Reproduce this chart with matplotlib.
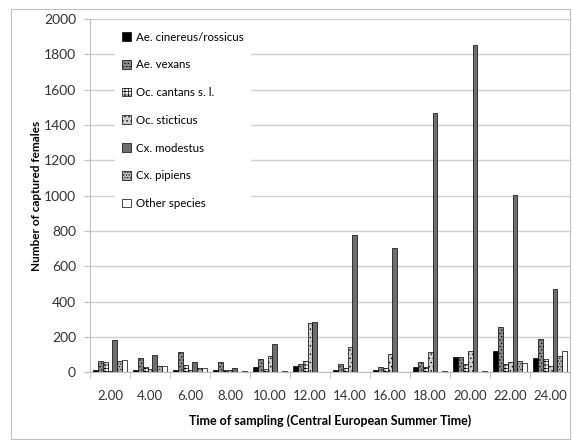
import numpy as np
import matplotlib.pyplot as plt

plt.rcParams['font.family'] = ['Lato', 'DejaVu Sans']
plt.rcParams['hatch.linewidth'] = 0.5

times = ['2.00', '4.00', '6.00', '8.00', '10.00', '12.00', '14.00', '16.00',
         '18.00', '20.00', '22.00', '24.00']
species = ['Ae. cinereus/rossicus', 'Ae. vexans', 'Oc. cantans s. l.', 'Oc. sticticus',
           'Cx. modestus', 'Cx. pipiens', 'Other species']

ae_cinereus = [15, 15, 10, 10, 28, 36, 10, 15, 28, 85, 120, 80]
ae_vexans = [66, 79, 115, 60, 74, 45, 47, 32, 57, 85, 255, 188]
oc_cantans = [57, 28, 43, 13, 17, 62, 23, 25, 32, 45, 47, 72]
oc_sticticus = [5, 20, 15, 13, 91, 280, 140, 102, 117, 120, 55, 36]
cx_modestus = [183, 100, 59, 23, 160, 287, 775, 703, 1470, 1850, 1002, 470]
cx_pipiens = [66, 34, 26, 0, 0, 0, 0, 0, 0, 0, 66, 89]
other = [70, 34, 26, 8, 8, 0, 0, 0, 8, 8, 51, 122]

series = [ae_cinereus, ae_vexans, oc_cantans, oc_sticticus, cx_modestus, cx_pipiens, other]
faces = ['#000000', '#8a8a8a', '#ffffff', '#cfcfcf', '#6e6e6e', '#b8b8b8', '#ffffff']
hatches = [None, '.....', '+++++', '....', None, '......', None]

fig = plt.figure(figsize=(5.73, 4.41), dpi=100)
# outer border
fig.add_artist(plt.Rectangle((0.02, 0.005), 0.975, 0.975, transform=fig.transFigure,
                             fill=False, edgecolor='#bfbfbf', linewidth=0.8))
ax = fig.add_axes([0.157, 0.156, 0.838, 0.801])

x = np.arange(len(times))
n = len(series)
w = 0.85 / n
for i, vals in enumerate(series):
    ax.bar(x - 0.425 + w * (i + 0.5), vals, width=w, color=faces[i], edgecolor='black',
           linewidth=0.5, hatch=hatches[i], label=species[i], zorder=3)

ax.set_xlim(-0.5, len(times) - 0.5)
ax.set_ylim(0, 2000)
ax.set_yticks(np.arange(0, 2001, 200))
ax.set_xticks(x)
ax.set_xticklabels(times)
ax.set_xticks(np.arange(-0.5, len(times), 1), minor=True)
ax.tick_params(axis='x', which='major', length=0, labelsize=9.5, pad=13, colors='#333333')
ax.tick_params(axis='x', which='minor', length=4, color='#bfbfbf')
ax.tick_params(axis='y', length=4, color='#bfbfbf', labelsize=10, colors='#333333', pad=6)
ax.yaxis.grid(True, color='#d0d0d0', linewidth=1, zorder=0)
ax.set_axisbelow(True)
for s in ['top', 'right']:
    ax.spines[s].set_visible(False)
ax.spines['left'].set_color('#bfbfbf')
ax.spines['bottom'].set_color('#bfbfbf')

ax.set_ylabel('Number of captured females', fontsize=8.5, fontweight='bold', labelpad=1)
ax.set_xlabel('Time of sampling (Central European Summer Time)', fontsize=9,
              fontweight='bold', labelpad=9)

leg = ax.legend(loc='upper left', bbox_to_anchor=(0.04, 1.0), fontsize=8.3,
                labelspacing=1.45, handlelength=0.8, handleheight=0.8,
                handletextpad=0.4, frameon=True, framealpha=1, edgecolor='white',
                facecolor='white', borderpad=0.6)
leg.set_zorder(5)

fig.savefig('out.png', dpi=100)
